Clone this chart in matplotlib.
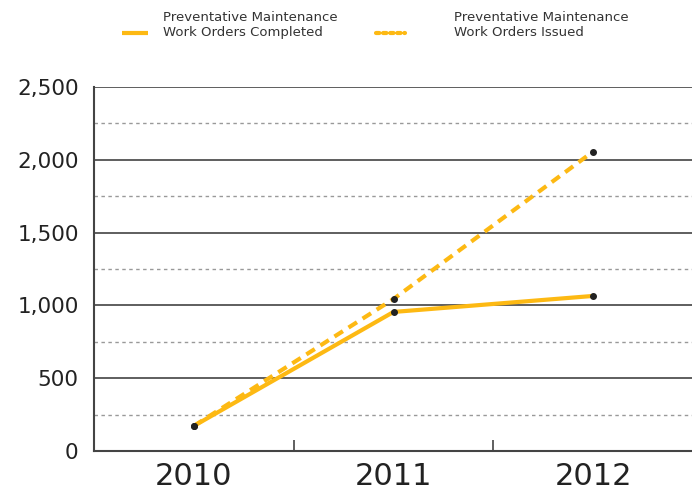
import matplotlib
matplotlib.use("Agg")
import matplotlib.pyplot as plt
from matplotlib.lines import Line2D

years = ["2010", "2011", "2012"]
completed = [172, 955, 1065]
issued = [172, 1044, 2057]
series_names = ["Preventative Maintenance\nWork Orders Completed",
                "Preventative Maintenance\nWork Orders Issued"]
y_ticks = [0, 500, 1000, 1500, 2000, 2500]
y_tick_labels = ["0", "500", "1,000", "1,500", "2,000", "2,500"]
minor_grid = [250, 750, 1250, 1750, 2250]

plt.rcParams['font.family'] = ['DejaVu Sans']
color = "#FDB913"

fig = plt.figure(figsize=(6.92, 4.97), dpi=100)
ax = fig.add_axes([94/692, 46/497, (693-94)/692, (451-87)/497])

x = list(range(len(years)))
ax.set_xlim(-0.5, 2.5)
ax.set_ylim(0, 2500)

for v in y_ticks[1:]:
    ax.axhline(v, color="#333333", lw=1.1, zorder=1)
for v in minor_grid:
    ax.axhline(v, color="#999999", lw=1.0, ls=(0, (2.5, 2.5)), zorder=1)

ax.plot(x, issued, color=color, lw=3, ls=(0, (2.4, 1.6)), dash_capstyle="butt",
        zorder=3)
ax.plot(x, completed, color=color, lw=3, solid_capstyle="butt", zorder=4)
ax.scatter(x, issued, s=16, color="#222222", zorder=5)
ax.scatter(x, completed, s=16, color="#222222", zorder=5)

for s in ["top", "right"]:
    ax.spines[s].set_visible(False)
for s in ["left", "bottom"]:
    ax.spines[s].set_color("#444444")
    ax.spines[s].set_linewidth(1.5)

ax.set_yticks(y_ticks)
ax.set_yticklabels(y_tick_labels, fontsize=15.5, color="#222222")
ax.tick_params(axis="y", length=0, pad=11)

ax.set_xticks(x)
ax.set_xticklabels(years, fontsize=22, color="#222222")
ax.set_xticks([0.5, 1.5], minor=True)
ax.tick_params(axis="x", which="major", length=0, pad=8)
ax.tick_params(axis="x", which="minor", direction="in", length=8, width=1.2,
               color="#444444")

# legend (manual)
def fy(py):
    return 1 - py / 497

fig.add_artist(Line2D([122/692, 148/692], [fy(33), fy(33)], color=color, lw=3,
                      solid_capstyle="butt"))
fig.add_artist(Line2D([376/692, 405/692], [fy(33), fy(33)], color=color, lw=3,
                      ls=(0, (0.8, 0.9)), dash_capstyle="round"))
fig.text(163/692, fy(25), series_names[0], fontsize=9.5, color="#333333",
         va="center", ha="left", linespacing=1.25)
fig.text(454/692, fy(25), series_names[1], fontsize=9.5, color="#333333",
         va="center", ha="left", linespacing=1.25)

fig.savefig("out.png", dpi=100)
